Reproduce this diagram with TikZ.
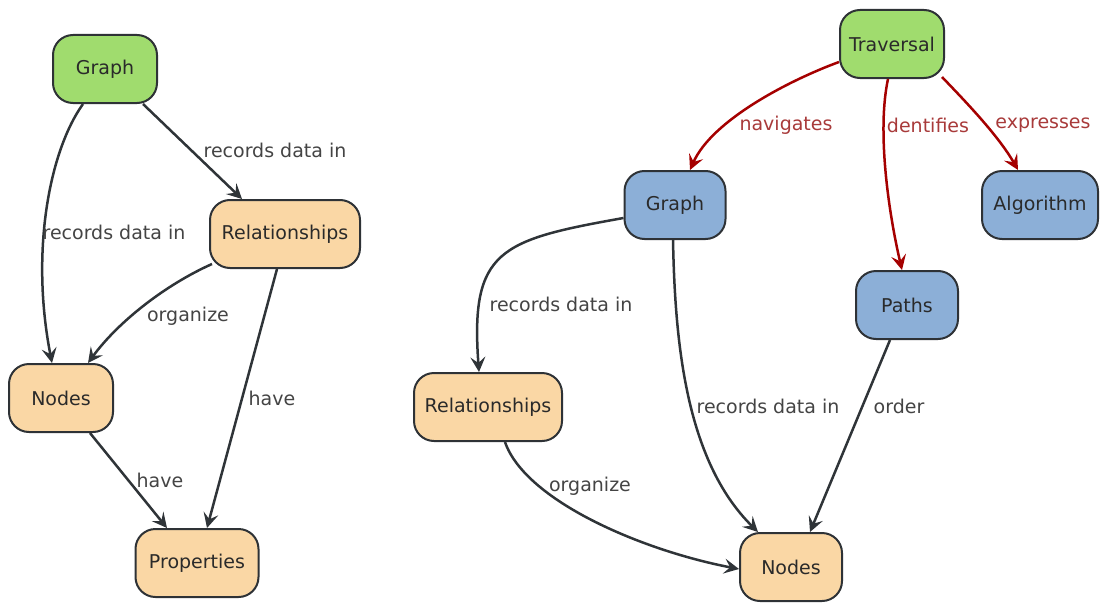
\documentclass[tikz,border=0pt]{standalone}
\usepackage{fontspec}
\setmainfont{DejaVu Sans}
\usetikzlibrary{arrows.meta}
\definecolor{startfill}{HTML}{A0DC6E}
\definecolor{datafill}{HTML}{FAD7A5}
\definecolor{corefill}{HTML}{8CAFD7}
\definecolor{boxline}{HTML}{2E3236}
\definecolor{nodetext}{HTML}{2A2A2A}
\definecolor{linkcol}{HTML}{2F3438}
\definecolor{redcol}{HTML}{A50000}
\definecolor{lblcol}{HTML}{444444}
\definecolor{redlblcol}{HTML}{A83A3A}
\begin{document}
\begin{tikzpicture}[x=1pt,y=-1pt,
  box/.style={draw=boxline, line width=2pt, rounded corners=20pt,
    minimum height=68pt, inner sep=0pt, text=nodetext,
    font=\fontsize{19}{22}\selectfont},
  startbox/.style={box, fill=startfill},
  databox/.style={box, fill=datafill},
  corebox/.style={box, fill=corefill},
  link/.style={draw=linkcol, line width=2.5pt,
    -{Stealth[length=15pt,width=15pt,inset=6pt]}},
  redlink/.style={link, draw=redcol},
  lbl/.style={text=lblcol, inner sep=1pt, font=\fontsize{19}{22}\selectfont},
  redlbl/.style={lbl, text=redlblcol}]
\useasboundingbox (0,0) rectangle (1102,602);

% ---- left model ----
\node[startbox, minimum width=104pt] (g1) at (105,69) {Graph};
\node[databox, minimum width=150pt] (r1) at (285,234) {Relationships};
\node[databox, minimum width=104pt] (n1) at (61,398) {Nodes};
\node[databox, minimum width=123pt] (p1) at (197,563) {Properties};

\draw[link] ([xshift=38pt]g1.south) -- ([xshift=-43pt]r1.north)
  node[lbl] at (275,150) {records data in};
\draw[link] ([xshift=-22pt]g1.south) .. controls (50,150) and (30,250) .. ([xshift=-9pt]n1.north)
  node[lbl] at (114,232) {records data in};
\draw[link] ([xshift=-73pt,yshift=-30pt]r1.center) .. controls (165,285) and (118,322) .. ([xshift=27pt]n1.north)
  node[lbl] at (188,316) {organize};
\draw[link] ([xshift=-8pt]r1.south) -- ([xshift=10pt]p1.north)
  node[lbl] at (272,398) {have};
\draw[link] ([xshift=29pt]n1.south) -- ([xshift=-30pt]p1.north)
  node[lbl] at (160,480) {have};

% ---- right model ----
\node[startbox, minimum width=104pt] (t) at (892,44) {Traversal};
\node[corebox, minimum width=101pt] (g2) at (675,205) {Graph};
\node[corebox, minimum width=116pt] (a) at (1040,205) {Algorithm};
\node[corebox, minimum width=102pt] (pa) at (907,305) {Paths};
\node[databox, minimum width=148pt] (r2) at (488,407) {Relationships};
\node[databox, minimum width=102pt] (n2) at (791,567) {Nodes};

\draw[redlink] ([yshift=-18pt]t.west) .. controls (790,80) and (712,120) .. ([xshift=15pt]g2.north)
  node[redlbl] at (786,125) {navigates};
\draw[redlink] ([xshift=-4pt]t.south) .. controls (877,130) and (888,210) .. ([xshift=-5pt]pa.north)
  node[redlbl] at (928,125) {dentifies};
\draw[redlink] ([xshift=50pt,yshift=-33pt]t.center) .. controls (964,100) and (998,135) .. ([xshift=-22pt]a.north)
  node[redlbl] at (1043,125) {expresses};

\draw[link] ([yshift=-13pt]g2.west) .. controls (500,240) and (470,250) .. ([xshift=-9pt]r2.north)
  node[lbl] at (561,304) {records data in};
\draw[link] ([xshift=-2pt]g2.south) .. controls (675,340) and (685,460) .. ([xshift=-33pt]n2.north)
  node[lbl] at (768,406) {records data in};
\draw[link] ([xshift=-17pt]pa.south) -- ([xshift=19pt]n2.north)
  node[lbl] at (899,406) {order};
\draw[link] ([xshift=17pt]r2.south) .. controls (525,500) and (640,550) .. ([yshift=-2pt]n2.west)
  node[lbl] at (590,486) {organize};
\end{tikzpicture}
\end{document}
